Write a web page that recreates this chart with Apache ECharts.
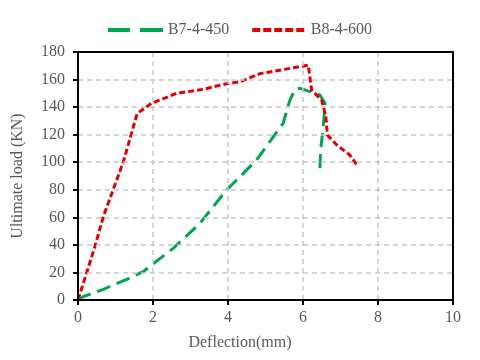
<!DOCTYPE html>
<html><head><meta charset="utf-8">
<script src="https://cdn.jsdelivr.net/npm/echarts@6/dist/echarts.min.js"></script>
<style>html,body{margin:0;padding:0;background:#fff}#c{width:480px;height:360px}</style>
</head><body><div id="c"></div>
<script>
const seriesNames = ['B7-4-450', 'B8-4-600'];
const b7Deflection = [0,0.14,0.675,1.3,1.74,1.96,2.54,3.25,3.96,4.32,4.76,5.21,5.47,5.65,5.79,5.92,6.19,6.45,6.59,6.54,6.47,6.45];
const b7Load = [0,2.4,7.7,15,20.6,25.4,37.5,55.6,79.8,89.5,101.6,118.5,128.2,145,152.9,153.6,151.2,148.8,142.7,125.8,108.8,95.6];
const b8Deflection = [0,0.45,0.675,1.21,1.58,1.96,2.63,3.34,3.96,4.32,4.85,5.65,6.14,6.19,6.23,6.5,6.61,6.65,6.9,7.25,7.47];
const b8Load = [0,38.7,60.5,100.4,135.5,142.7,150,152.9,157,158.4,164.3,168.1,170.5,169.3,152.4,145,133,119.7,112.5,105.2,96.7];
const xTitle = 'Deflection(mm)';
const yTitle = 'Ultimate load (KN)';

const zip = (a, b) => a.map((v, i) => [v, b[i]]);
const font = 'Liberation Serif';
const txt = '#595959';
const frameAxis = { show: true, onZero: false, lineStyle: { color: '#000', width: 2 } };
const chart = echarts.init(document.getElementById('c'));
chart.setOption({
  animation: false,
  grid: { left: 78, right: 27, top: 52, bottom: 60 },
  legend: {
    top: 17, left: 'center', itemWidth: 55, itemHeight: 4, itemGap: 23,
    textStyle: { fontFamily: font, fontSize: 16, color: txt },
    data: [
      { name: seriesNames[0], icon: 'path://M0,0L22,0L22,4L0,4Z M32,0L55,0L55,4L32,4Z', itemStyle: { color: '#00A651' } },
      { name: seriesNames[1], icon: 'path://M0,0L8,0L8,4L0,4Z M11,0L19,0L19,4L11,4Z M22,0L30,0L30,4L22,4Z M33,0L41,0L41,4L33,4Z M44,0L52,0L52,4L44,4Z', itemStyle: { color: '#E00000' } }
    ]
  },
  xAxis: [{
    type: 'value', min: 0, max: 10, interval: 2, position: 'bottom', z: 5,
    axisLine: frameAxis,
    axisTick: { show: true, inside: false, length: 5, lineStyle: { color: '#000', width: 2 } },
    axisLabel: { fontFamily: font, fontSize: 16, color: txt, margin: 10 },
    splitLine: { show: true, lineStyle: { color: '#c8c8c8', width: 1.5, type: [5, 4] } }
  }, {
    type: 'value', min: 0, max: 10, interval: 2, position: 'top', z: 5,
    axisLine: frameAxis, axisTick: { show: false }, axisLabel: { show: false }, splitLine: { show: false }
  }],
  yAxis: [{
    type: 'value', min: 0, max: 180, interval: 20, position: 'left', z: 5,
    axisLine: frameAxis,
    axisTick: { show: true, inside: false, length: 5, lineStyle: { color: '#000', width: 2 } },
    axisLabel: { fontFamily: font, fontSize: 16, color: txt, margin: 13 },
    splitLine: { show: true, lineStyle: { color: '#c8c8c8', width: 1.5, type: [5, 4] } }
  }, {
    type: 'value', min: 0, max: 180, interval: 20, position: 'right', z: 5,
    axisLine: frameAxis, axisTick: { show: false }, axisLabel: { show: false }, splitLine: { show: false }
  }],
  graphic: [
    { type: 'text', left: 'center', top: 335, style: { text: xTitle, font: '16px "Liberation Serif"', fill: txt } },
    { type: 'text', x: 10, y: 176, rotation: Math.PI / 2, style: { text: yTitle, font: '16px "Liberation Serif"', fill: txt, align: 'center', verticalAlign: 'top' } }
  ],
  series: [
    { name: seriesNames[0], type: 'line', symbol: 'none', data: zip(b7Deflection, b7Load),
      lineStyle: { color: '#00A651', width: 3, type: [14, 7] }, itemStyle: { color: '#00A651' } },
    { name: seriesNames[1], type: 'line', symbol: 'none', data: zip(b8Deflection, b8Load),
      lineStyle: { color: '#E00000', width: 3, type: [6, 3] }, itemStyle: { color: '#E00000' } }
  ]
});
</script></body></html>
